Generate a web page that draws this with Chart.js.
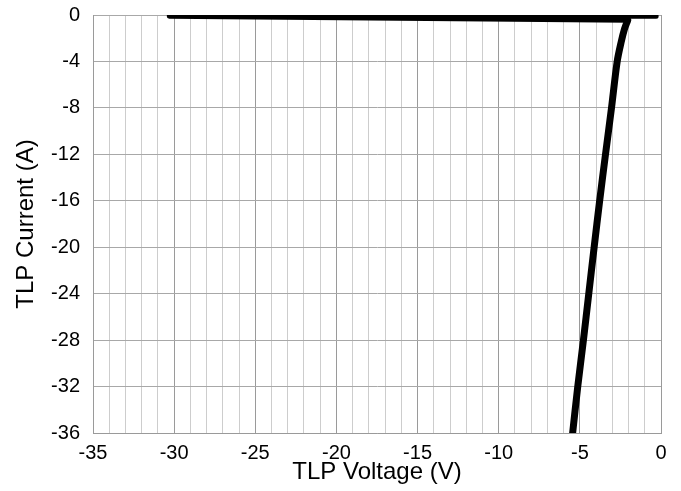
<!DOCTYPE html>
<html>
<head>
<meta charset="utf-8">
<script src="https://cdn.jsdelivr.net/npm/chart.js@4.4.1/dist/chart.umd.min.js"></script>
<style>
  html, body { margin: 0; padding: 0; background: #fff; }
  #wrap { width: 681px; height: 491px; }
</style>
</head>
<body>
<div id="wrap"><canvas id="tlp"></canvas></div>
<script>
// === data ===

// low-current part near 0 A (voltage V / current A, drawing order)
const TOP_VOLTAGE = [-0.3, -30.3, -2.05];
const TOP_CURRENT = [-0.1, -0.1, -0.45];

// snapback branch, 0 A down to -36 A
const CURVE_VOLTAGE = [-2.05, -2.25, -2.45, -2.7, -3.05, -3.42, -3.78, -4.12, -4.45, -4.78, -5.13, -5.46];
const CURVE_CURRENT = [-0.45, -1.2, -2.3, -4, -8, -12, -16, -20, -24, -28, -32, -36.2];

// axis ranges and ticks
const X_MIN = -35, X_MAX = 0, X_STEP = 1, X_LABEL_EVERY = 5;
const Y_MIN = -36, Y_MAX = 0, Y_STEP = 4;

const FONT = "'Liberation Sans', Arial, sans-serif";

function toPoints(xs, ys) {
  return xs.map((x, i) => ({ x, y: ys[i] }));
}

const lineStyle = {
  showLine: true,
  borderColor: "#000",
  borderCapStyle: "round",
  borderJoinStyle: "round",
  pointRadius: 0,
};

new Chart(document.getElementById("tlp"), {
  type: "scatter",
  data: {
    datasets: [
      { ...lineStyle, data: toPoints(TOP_VOLTAGE, TOP_CURRENT), borderWidth: 5, tension: 0 },
      { ...lineStyle, data: toPoints(CURVE_VOLTAGE, CURVE_CURRENT), borderWidth: 7, tension: 0.3 },
    ],
  },
  options: {
    responsive: true,
    maintainAspectRatio: false,
    animation: false,
    layout: { padding: { left: 0, right: 20, top: 15, bottom: 0 } },
    plugins: {
      legend: { display: false },
      tooltip: { enabled: false },
    },
    scales: {
      x: {
        type: "linear",
        min: X_MIN,
        max: X_MAX,
        afterFit: s => { s.height = 58; },
        ticks: {
          stepSize: X_STEP,
          autoSkip: false,
          maxRotation: 0,
          padding: 8,
          color: "#000",
          font: { family: FONT, size: 20 },
          callback: v => (v % X_LABEL_EVERY === 0 ? String(v) : ""),
        },
        grid: {
          drawTicks: false,
          lineWidth: 1,
          color: ctx => (ctx.tick && ctx.tick.value % X_LABEL_EVERY === 0 ? "#9a9a9a" : "#cdcdcd"),
        },
        border: { color: "#9a9a9a", width: 1 },
        title: {
          display: true,
          text: "TLP Voltage (V)",
          color: "#000",
          font: { family: FONT, size: 24 },
          padding: { top: 0, bottom: 4 },
        },
      },
      y: {
        type: "linear",
        min: Y_MIN,
        max: Y_MAX,
        // fixed width; drop the extra top/bottom room chart.js adds for end labels
        afterFit: s => {
          s.width = 93;
          s.paddingTop = 0;
          s.paddingBottom = 0;
        },
        ticks: {
          stepSize: Y_STEP,
          padding: 13,
          color: "#000",
          font: { family: FONT, size: 20 },
        },
        grid: {
          drawTicks: false,
          lineWidth: 1,
          color: "#a8a8a8",
        },
        border: { color: "#9a9a9a", width: 1 },
        title: {
          display: true,
          text: "TLP Current (A)",
          color: "#000",
          font: { family: FONT, size: 24 },
          padding: { top: 12, bottom: 0 },
        },
      },
    },
  },
});
</script>
</body>
</html>
